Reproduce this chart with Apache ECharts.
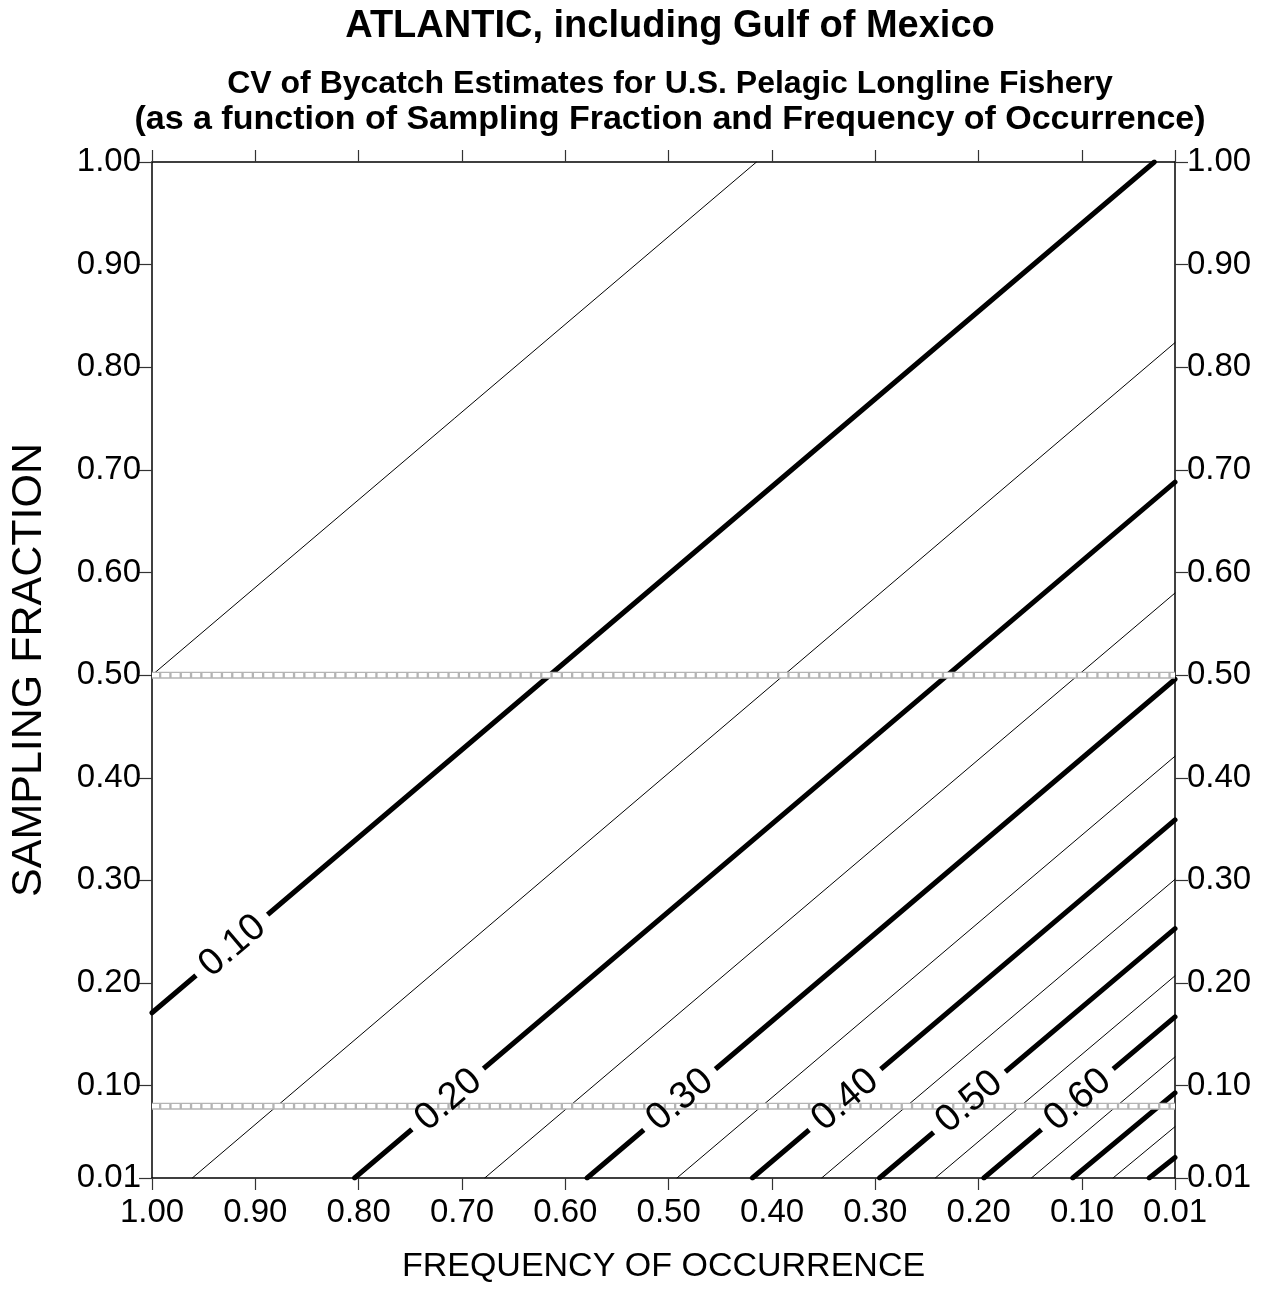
<!DOCTYPE html>
<html>
<head>
<meta charset="utf-8">
<script src="https://cdn.jsdelivr.net/npm/echarts@6/dist/echarts.min.js"></script>
<style>
html,body{margin:0;padding:0;background:#fff;overflow:hidden;}
#chart{width:1267px;height:1289px;}
</style>
</head>
<body>
<div id="chart"></div>
<script>
// ---- data ----
const titleText = 'ATLANTIC, including Gulf of Mexico';
const subtitleLine1 = 'CV of Bycatch Estimates for U.S. Pelagic Longline Fishery';
const subtitleLine2 = '(as a function of Sampling Fraction and Frequency of Occurrence)';
const xAxisName = 'FREQUENCY OF OCCURRENCE';
const yAxisName = 'SAMPLING FRACTION';

const freqTicks = [1.00, 0.90, 0.80, 0.70, 0.60, 0.50, 0.40, 0.30, 0.20, 0.10, 0.01];
const sampTicks = [0.01, 0.10, 0.20, 0.30, 0.40, 0.50, 0.60, 0.70, 0.80, 0.90, 1.00];

// contour levels (CV) and their end points (frequency, sampling fraction)
const cvLevels  = [0.05, 0.10, 0.15, 0.20, 0.25, 0.30, 0.35, 0.40, 0.45, 0.50, 0.55, 0.60, 0.65, 0.70, 0.75, 0.80];
const startFreq = [1.00, 1.00, 0.961, 0.804, 0.678, 0.579, 0.492, 0.419, 0.352, 0.296, 0.242, 0.195, 0.149, 0.109, 0.070, 0.035];
const startSamp = [0.50, 0.171, 0.01, 0.01, 0.01, 0.01, 0.01, 0.01, 0.01, 0.01, 0.01, 0.01, 0.01, 0.01, 0.01, 0.01];
const endFreq   = [0.415, 0.030, 0.01, 0.01, 0.01, 0.01, 0.01, 0.01, 0.01, 0.01, 0.01, 0.01, 0.01, 0.01, 0.01, 0.01];
const endSamp   = [1.00, 1.00, 0.824, 0.688, 0.580, 0.496, 0.421, 0.359, 0.301, 0.253, 0.207, 0.167, 0.128, 0.093, 0.060, 0.030];

// contour labels
const labelText = ['0.10', '0.20', '0.30', '0.40', '0.50', '0.60'];
const labelFreq = [0.922, 0.713, 0.489, 0.329, 0.209, 0.104];
const labelSamp = [0.236, 0.086, 0.086, 0.086, 0.084, 0.086];

// horizontal reference lines (sampling fraction)
const refSamp = [0.50, 0.08];

// ---- chart ----
const FONT = '"Liberation Sans", Arial, Helvetica, sans-serif';
const chart = echarts.init(document.getElementById('chart'), null, {renderer: 'canvas'});

const series = [];
cvLevels.forEach((cv, i) => {
  const major = Math.round(cv * 100) % 10 === 0;
  series.push({
    type: 'line', xAxisIndex: 0, yAxisIndex: 0, silent: true, z: 2,
    showSymbol: false, symbol: 'none',
    data: [[startFreq[i], startSamp[i]], [endFreq[i], endSamp[i]]],
    lineStyle: {color: '#000', width: major ? 5 : 1, cap: 'round'}
  });
});

const labelData = labelText.map((t, i) => [labelFreq[i], labelSamp[i], t]);
const LABEL_ROT = 40.5 * Math.PI / 180;
function labelSeries(z, withText) {
  return {
    type: 'custom', silent: true, z: z, xAxisIndex: 0, yAxisIndex: 0,
    data: labelData,
    encode: {x: 0, y: 1},
    renderItem: function (params, api) {
      const p = api.coord([api.value(0), api.value(1)]);
      const txt = labelData[params.dataIndex][2];
      return {
        type: 'text', x: p[0], y: p[1], rotation: LABEL_ROT,
        style: withText ? {
          text: txt, font: '38px ' + FONT, fill: '#000',
          align: 'center', verticalAlign: 'middle'
        } : {
          text: txt, font: '38px ' + FONT, fill: 'rgba(0,0,0,0)',
          align: 'center', verticalAlign: 'middle',
          backgroundColor: '#fff', padding: [2, 10]
        }
      };
    }
  };
}
// white background that breaks the contour lines
series.push(labelSeries(3, false));
// reference lines drawn as a row of small hollow boxes
refSamp.forEach(v => {
  series.push({
    type: 'line', silent: true, z: 4, showSymbol: false, symbol: 'none',
    data: [[1.00, v], [0.01, v]],
    lineStyle: {color: '#b4b4b4', width: 7}
  });
  series.push({
    type: 'line', silent: true, z: 5, showSymbol: false, symbol: 'none',
    data: [[1.00, v], [0.01, v]],
    lineStyle: {color: '#fff', width: 4.4, type: [8, 2.3], dashOffset: 1}
  });
});
// label text on top
series.push(labelSeries(6, true));

const axisLineStyle = {color: '#000', width: 1.5};
const tickStyle = {color: '#333', width: 1.2};

const option = {
  animation: false,
  backgroundColor: '#fff',
  grid: {left: 150, right: 92, top: 162, bottom: 105, containLabel: false},
  xAxis: [{
    type: 'value', position: 'bottom', inverse: true, min: 0.01, max: 1.00,
    axisLine: {show: true, lineStyle: axisLineStyle},
    axisTick: {show: true, length: 12, customValues: freqTicks, lineStyle: tickStyle},
    axisLabel: {show: true, customValues: freqTicks, formatter: v => v.toFixed(2),
      fontSize: 33, fontFamily: FONT, color: '#000', margin: 18},
    splitLine: {show: false},
    name: xAxisName, nameLocation: 'middle', nameGap: 72,
    nameTextStyle: {fontSize: 34, fontFamily: FONT, color: '#000'}
  }, {
    type: 'value', position: 'top', inverse: true, min: 0.01, max: 1.00,
    axisLine: {show: true, lineStyle: axisLineStyle},
    axisTick: {show: true, length: 12, customValues: freqTicks, lineStyle: tickStyle},
    axisLabel: {show: false},
    splitLine: {show: false}
  }],
  yAxis: [{
    type: 'value', position: 'left', min: 0.01, max: 1.00,
    axisLine: {show: true, lineStyle: axisLineStyle},
    axisTick: {show: true, length: 13, customValues: sampTicks, lineStyle: tickStyle},
    axisLabel: {show: true, customValues: sampTicks, formatter: v => v.toFixed(2),
      fontSize: 33, fontFamily: FONT, color: '#000', margin: 11},
    splitLine: {show: false},
    name: yAxisName, nameLocation: 'middle', nameGap: 101, nameRotate: 90,
    nameTextStyle: {fontSize: 43, fontFamily: FONT, color: '#000'}
  }, {
    type: 'value', position: 'right', min: 0.01, max: 1.00,
    axisLine: {show: true, lineStyle: axisLineStyle},
    axisTick: {show: true, length: 13, customValues: sampTicks, lineStyle: tickStyle},
    axisLabel: {show: true, customValues: sampTicks, formatter: v => v.toFixed(2),
      fontSize: 33, fontFamily: FONT, color: '#000', margin: 12},
    splitLine: {show: false}
  }],
  graphic: [
    {type: 'text', x: 670, y: 27, silent: true,
     style: {text: titleText, textAlign: 'center', textVerticalAlign: 'middle',
       font: 'bold 38px ' + FONT, fill: '#000'}},
    {type: 'text', x: 670, y: 84, silent: true,
     style: {text: subtitleLine1, textAlign: 'center', textVerticalAlign: 'middle',
       font: 'bold 32px ' + FONT, fill: '#000'}},
    {type: 'text', x: 670, y: 120, silent: true,
     style: {text: subtitleLine2, textAlign: 'center', textVerticalAlign: 'middle',
       font: 'bold 34px ' + FONT, fill: '#000'}}
  ],
  series: series
};
chart.setOption(option);
</script>
</body>
</html>
